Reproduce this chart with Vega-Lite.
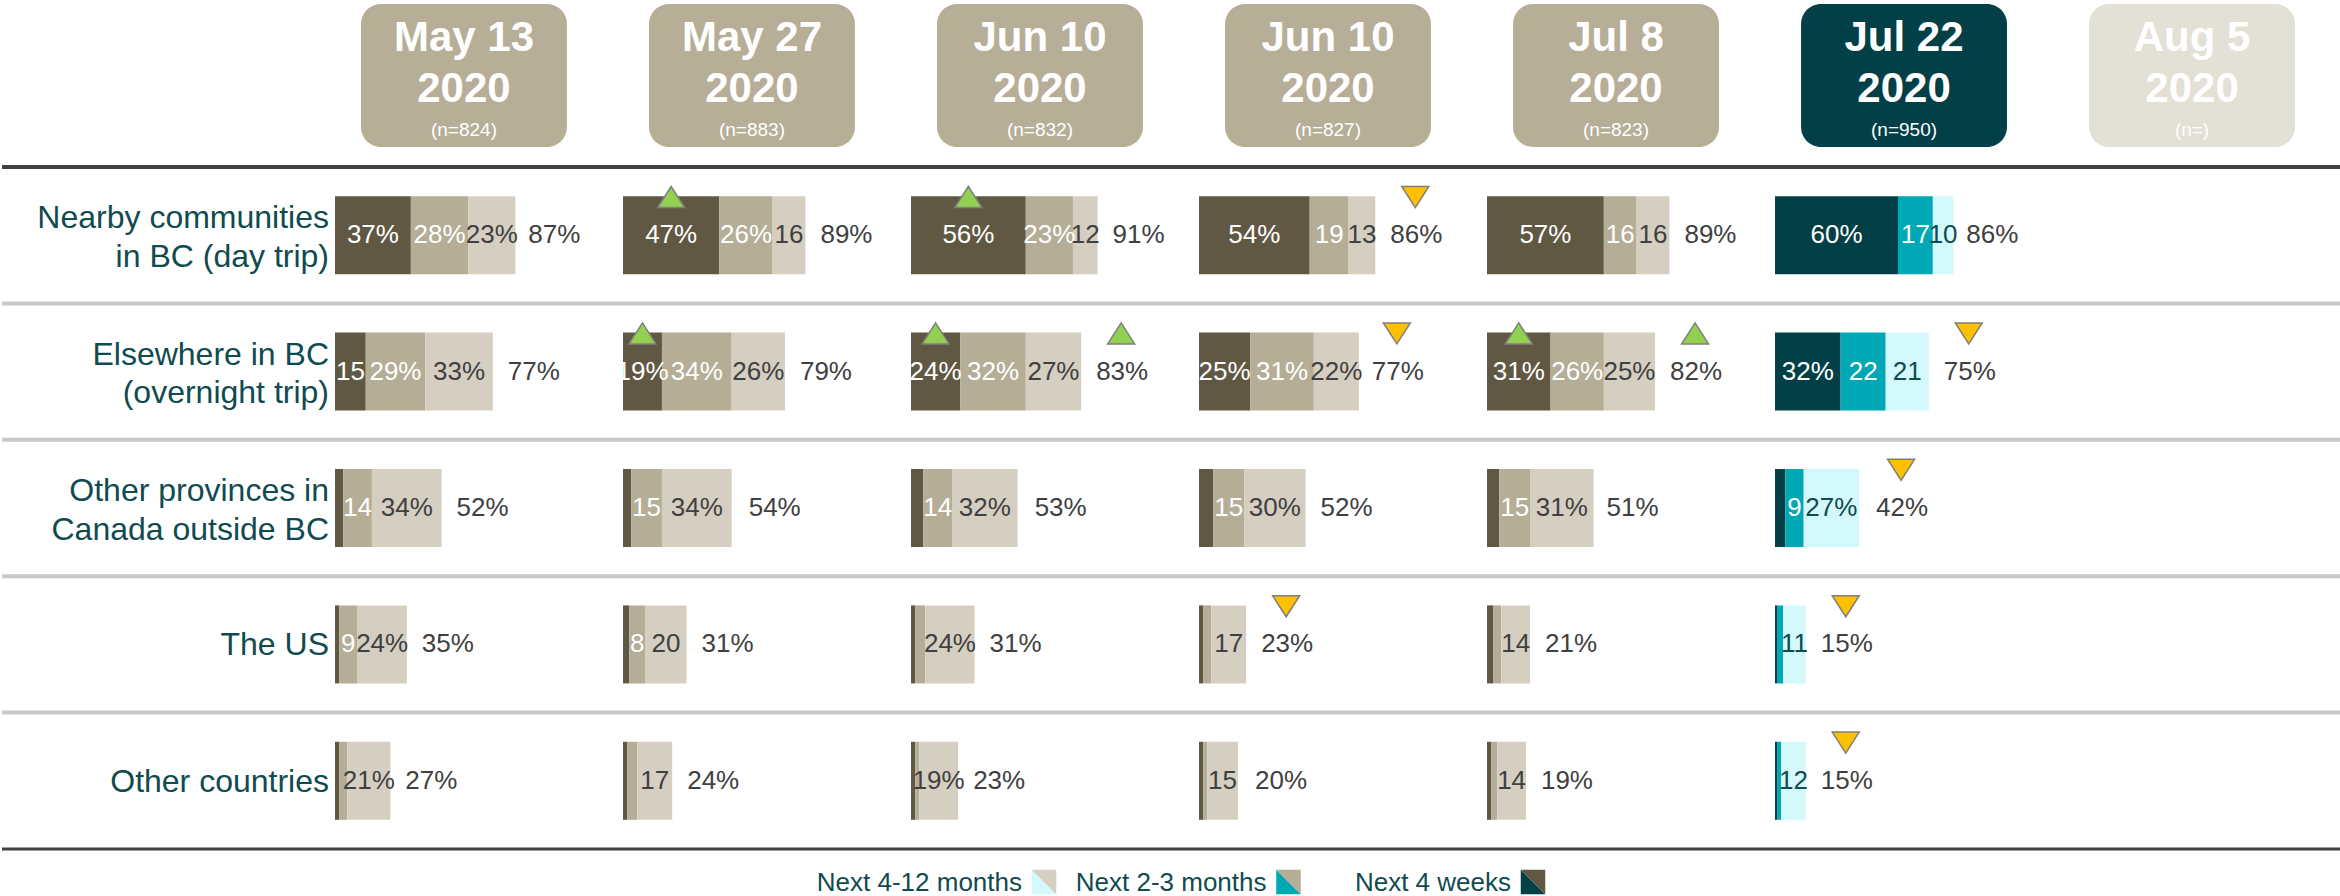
{
  "$schema": "https://vega.github.io/schema/vega-lite/v6.json",
  "padding": {"top": 4, "left": 0, "right": 0, "bottom": 0},
  "autosize": {"type": "pad"},
  "background": "white",
  "config": {"view": {"stroke": null}, "font": "Liberation Sans"},
  "spacing": 18,
  "datasets": {
    "waves": [
      {"wave": "W1", "date": "May 13", "year": "2020", "n": "(n=824)"},
      {"wave": "W2", "date": "May 27", "year": "2020", "n": "(n=883)"},
      {"wave": "W3", "date": "Jun 10", "year": "2020", "n": "(n=832)"},
      {"wave": "W4", "date": "Jun 10", "year": "2020", "n": "(n=827)"},
      {"wave": "W5", "date": "Jul 8", "year": "2020", "n": "(n=823)"},
      {"wave": "W6", "date": "Jul 22", "year": "2020", "n": "(n=950)"},
      {"wave": "W7", "date": "Aug 5", "year": "2020", "n": "(n=)"}
    ],
    "dests": [
      {"dest": "Nearby communities|in BC (day trip)"},
      {"dest": "Elsewhere in BC|(overnight trip)"},
      {"dest": "Other provinces in|Canada outside BC"},
      {"dest": "The US"},
      {"dest": "Other countries"}
    ],
    "legend": [
      {"seg": 3, "name": "Next 4-12 months"},
      {"seg": 2, "name": "Next 2-3 months"},
      {"seg": 1, "name": "Next 4 weeks"}
    ],
    "segs": [
      {"wave": "W1", "dest": "Nearby communities|in BC (day trip)", "seg": 1, "value": 37, "label": "37%"},
      {"wave": "W1", "dest": "Nearby communities|in BC (day trip)", "seg": 2, "value": 28, "label": "28%"},
      {"wave": "W1", "dest": "Nearby communities|in BC (day trip)", "seg": 3, "value": 23, "label": "23%"},
      {"wave": "W1", "dest": "Nearby communities|in BC (day trip)", "seg": 0, "value": 87, "label": "87%"},
      {"wave": "W1", "dest": "Elsewhere in BC|(overnight trip)", "seg": 1, "value": 15, "label": "15"},
      {"wave": "W1", "dest": "Elsewhere in BC|(overnight trip)", "seg": 2, "value": 29, "label": "29%"},
      {"wave": "W1", "dest": "Elsewhere in BC|(overnight trip)", "seg": 3, "value": 33, "label": "33%"},
      {"wave": "W1", "dest": "Elsewhere in BC|(overnight trip)", "seg": 0, "value": 77, "label": "77%"},
      {"wave": "W1", "dest": "Other provinces in|Canada outside BC", "seg": 1, "value": 4, "label": ""},
      {"wave": "W1", "dest": "Other provinces in|Canada outside BC", "seg": 2, "value": 14, "label": "14"},
      {"wave": "W1", "dest": "Other provinces in|Canada outside BC", "seg": 3, "value": 34, "label": "34%"},
      {"wave": "W1", "dest": "Other provinces in|Canada outside BC", "seg": 0, "value": 52, "label": "52%"},
      {"wave": "W1", "dest": "The US", "seg": 1, "value": 2, "label": ""},
      {"wave": "W1", "dest": "The US", "seg": 2, "value": 9, "label": "9"},
      {"wave": "W1", "dest": "The US", "seg": 3, "value": 24, "label": "24%"},
      {"wave": "W1", "dest": "The US", "seg": 0, "value": 35, "label": "35%"},
      {"wave": "W1", "dest": "Other countries", "seg": 1, "value": 2, "label": ""},
      {"wave": "W1", "dest": "Other countries", "seg": 2, "value": 4, "label": ""},
      {"wave": "W1", "dest": "Other countries", "seg": 3, "value": 21, "label": "21%"},
      {"wave": "W1", "dest": "Other countries", "seg": 0, "value": 27, "label": "27%"},

      {"wave": "W2", "dest": "Nearby communities|in BC (day trip)", "seg": 1, "value": 47, "label": "47%", "arrow": "up"},
      {"wave": "W2", "dest": "Nearby communities|in BC (day trip)", "seg": 2, "value": 26, "label": "26%"},
      {"wave": "W2", "dest": "Nearby communities|in BC (day trip)", "seg": 3, "value": 16, "label": "16"},
      {"wave": "W2", "dest": "Nearby communities|in BC (day trip)", "seg": 0, "value": 89, "label": "89%"},
      {"wave": "W2", "dest": "Elsewhere in BC|(overnight trip)", "seg": 1, "value": 19, "label": "19%", "arrow": "up"},
      {"wave": "W2", "dest": "Elsewhere in BC|(overnight trip)", "seg": 2, "value": 34, "label": "34%"},
      {"wave": "W2", "dest": "Elsewhere in BC|(overnight trip)", "seg": 3, "value": 26, "label": "26%"},
      {"wave": "W2", "dest": "Elsewhere in BC|(overnight trip)", "seg": 0, "value": 79, "label": "79%"},
      {"wave": "W2", "dest": "Other provinces in|Canada outside BC", "seg": 1, "value": 4, "label": ""},
      {"wave": "W2", "dest": "Other provinces in|Canada outside BC", "seg": 2, "value": 15, "label": "15"},
      {"wave": "W2", "dest": "Other provinces in|Canada outside BC", "seg": 3, "value": 34, "label": "34%"},
      {"wave": "W2", "dest": "Other provinces in|Canada outside BC", "seg": 0, "value": 54, "label": "54%"},
      {"wave": "W2", "dest": "The US", "seg": 1, "value": 3, "label": ""},
      {"wave": "W2", "dest": "The US", "seg": 2, "value": 8, "label": "8"},
      {"wave": "W2", "dest": "The US", "seg": 3, "value": 20, "label": "20"},
      {"wave": "W2", "dest": "The US", "seg": 0, "value": 31, "label": "31%"},
      {"wave": "W2", "dest": "Other countries", "seg": 1, "value": 2, "label": ""},
      {"wave": "W2", "dest": "Other countries", "seg": 2, "value": 5, "label": ""},
      {"wave": "W2", "dest": "Other countries", "seg": 3, "value": 17, "label": "17"},
      {"wave": "W2", "dest": "Other countries", "seg": 0, "value": 24, "label": "24%"},

      {"wave": "W3", "dest": "Nearby communities|in BC (day trip)", "seg": 1, "value": 56, "label": "56%", "arrow": "up"},
      {"wave": "W3", "dest": "Nearby communities|in BC (day trip)", "seg": 2, "value": 23, "label": "23%"},
      {"wave": "W3", "dest": "Nearby communities|in BC (day trip)", "seg": 3, "value": 12, "label": "12"},
      {"wave": "W3", "dest": "Nearby communities|in BC (day trip)", "seg": 0, "value": 91, "label": "91%"},
      {"wave": "W3", "dest": "Elsewhere in BC|(overnight trip)", "seg": 1, "value": 24, "label": "24%", "arrow": "up"},
      {"wave": "W3", "dest": "Elsewhere in BC|(overnight trip)", "seg": 2, "value": 32, "label": "32%"},
      {"wave": "W3", "dest": "Elsewhere in BC|(overnight trip)", "seg": 3, "value": 27, "label": "27%"},
      {"wave": "W3", "dest": "Elsewhere in BC|(overnight trip)", "seg": 0, "value": 83, "label": "83%", "arrow": "up"},
      {"wave": "W3", "dest": "Other provinces in|Canada outside BC", "seg": 1, "value": 6, "label": ""},
      {"wave": "W3", "dest": "Other provinces in|Canada outside BC", "seg": 2, "value": 14, "label": "14"},
      {"wave": "W3", "dest": "Other provinces in|Canada outside BC", "seg": 3, "value": 32, "label": "32%"},
      {"wave": "W3", "dest": "Other provinces in|Canada outside BC", "seg": 0, "value": 53, "label": "53%"},
      {"wave": "W3", "dest": "The US", "seg": 1, "value": 2, "label": ""},
      {"wave": "W3", "dest": "The US", "seg": 2, "value": 5, "label": ""},
      {"wave": "W3", "dest": "The US", "seg": 3, "value": 24, "label": "24%"},
      {"wave": "W3", "dest": "The US", "seg": 0, "value": 31, "label": "31%"},
      {"wave": "W3", "dest": "Other countries", "seg": 1, "value": 2, "label": ""},
      {"wave": "W3", "dest": "Other countries", "seg": 2, "value": 2, "label": ""},
      {"wave": "W3", "dest": "Other countries", "seg": 3, "value": 19, "label": "19%"},
      {"wave": "W3", "dest": "Other countries", "seg": 0, "value": 23, "label": "23%"},

      {"wave": "W4", "dest": "Nearby communities|in BC (day trip)", "seg": 1, "value": 54, "label": "54%"},
      {"wave": "W4", "dest": "Nearby communities|in BC (day trip)", "seg": 2, "value": 19, "label": "19"},
      {"wave": "W4", "dest": "Nearby communities|in BC (day trip)", "seg": 3, "value": 13, "label": "13"},
      {"wave": "W4", "dest": "Nearby communities|in BC (day trip)", "seg": 0, "value": 86, "label": "86%", "arrow": "down"},
      {"wave": "W4", "dest": "Elsewhere in BC|(overnight trip)", "seg": 1, "value": 25, "label": "25%"},
      {"wave": "W4", "dest": "Elsewhere in BC|(overnight trip)", "seg": 2, "value": 31, "label": "31%"},
      {"wave": "W4", "dest": "Elsewhere in BC|(overnight trip)", "seg": 3, "value": 22, "label": "22%"},
      {"wave": "W4", "dest": "Elsewhere in BC|(overnight trip)", "seg": 0, "value": 77, "label": "77%", "arrow": "down"},
      {"wave": "W4", "dest": "Other provinces in|Canada outside BC", "seg": 1, "value": 7, "label": ""},
      {"wave": "W4", "dest": "Other provinces in|Canada outside BC", "seg": 2, "value": 15, "label": "15"},
      {"wave": "W4", "dest": "Other provinces in|Canada outside BC", "seg": 3, "value": 30, "label": "30%"},
      {"wave": "W4", "dest": "Other provinces in|Canada outside BC", "seg": 0, "value": 52, "label": "52%"},
      {"wave": "W4", "dest": "The US", "seg": 1, "value": 2, "label": ""},
      {"wave": "W4", "dest": "The US", "seg": 2, "value": 4, "label": ""},
      {"wave": "W4", "dest": "The US", "seg": 3, "value": 17, "label": "17"},
      {"wave": "W4", "dest": "The US", "seg": 0, "value": 23, "label": "23%", "arrow": "down"},
      {"wave": "W4", "dest": "Other countries", "seg": 1, "value": 2, "label": ""},
      {"wave": "W4", "dest": "Other countries", "seg": 2, "value": 2, "label": ""},
      {"wave": "W4", "dest": "Other countries", "seg": 3, "value": 15, "label": "15"},
      {"wave": "W4", "dest": "Other countries", "seg": 0, "value": 20, "label": "20%"},

      {"wave": "W5", "dest": "Nearby communities|in BC (day trip)", "seg": 1, "value": 57, "label": "57%"},
      {"wave": "W5", "dest": "Nearby communities|in BC (day trip)", "seg": 2, "value": 16, "label": "16"},
      {"wave": "W5", "dest": "Nearby communities|in BC (day trip)", "seg": 3, "value": 16, "label": "16"},
      {"wave": "W5", "dest": "Nearby communities|in BC (day trip)", "seg": 0, "value": 89, "label": "89%"},
      {"wave": "W5", "dest": "Elsewhere in BC|(overnight trip)", "seg": 1, "value": 31, "label": "31%", "arrow": "up"},
      {"wave": "W5", "dest": "Elsewhere in BC|(overnight trip)", "seg": 2, "value": 26, "label": "26%"},
      {"wave": "W5", "dest": "Elsewhere in BC|(overnight trip)", "seg": 3, "value": 25, "label": "25%"},
      {"wave": "W5", "dest": "Elsewhere in BC|(overnight trip)", "seg": 0, "value": 82, "label": "82%", "arrow": "up"},
      {"wave": "W5", "dest": "Other provinces in|Canada outside BC", "seg": 1, "value": 6, "label": ""},
      {"wave": "W5", "dest": "Other provinces in|Canada outside BC", "seg": 2, "value": 15, "label": "15"},
      {"wave": "W5", "dest": "Other provinces in|Canada outside BC", "seg": 3, "value": 31, "label": "31%"},
      {"wave": "W5", "dest": "Other provinces in|Canada outside BC", "seg": 0, "value": 51, "label": "51%"},
      {"wave": "W5", "dest": "The US", "seg": 1, "value": 3, "label": ""},
      {"wave": "W5", "dest": "The US", "seg": 2, "value": 4, "label": ""},
      {"wave": "W5", "dest": "The US", "seg": 3, "value": 14, "label": "14"},
      {"wave": "W5", "dest": "The US", "seg": 0, "value": 21, "label": "21%"},
      {"wave": "W5", "dest": "Other countries", "seg": 1, "value": 2, "label": ""},
      {"wave": "W5", "dest": "Other countries", "seg": 2, "value": 3, "label": ""},
      {"wave": "W5", "dest": "Other countries", "seg": 3, "value": 14, "label": "14"},
      {"wave": "W5", "dest": "Other countries", "seg": 0, "value": 19, "label": "19%"},

      {"wave": "W6", "dest": "Nearby communities|in BC (day trip)", "seg": 1, "value": 60, "label": "60%"},
      {"wave": "W6", "dest": "Nearby communities|in BC (day trip)", "seg": 2, "value": 17, "label": "17"},
      {"wave": "W6", "dest": "Nearby communities|in BC (day trip)", "seg": 3, "value": 10, "label": "10"},
      {"wave": "W6", "dest": "Nearby communities|in BC (day trip)", "seg": 0, "value": 86, "label": "86%"},
      {"wave": "W6", "dest": "Elsewhere in BC|(overnight trip)", "seg": 1, "value": 32, "label": "32%"},
      {"wave": "W6", "dest": "Elsewhere in BC|(overnight trip)", "seg": 2, "value": 22, "label": "22"},
      {"wave": "W6", "dest": "Elsewhere in BC|(overnight trip)", "seg": 3, "value": 21, "label": "21"},
      {"wave": "W6", "dest": "Elsewhere in BC|(overnight trip)", "seg": 0, "value": 75, "label": "75%", "arrow": "down"},
      {"wave": "W6", "dest": "Other provinces in|Canada outside BC", "seg": 1, "value": 5, "label": ""},
      {"wave": "W6", "dest": "Other provinces in|Canada outside BC", "seg": 2, "value": 9, "label": "9"},
      {"wave": "W6", "dest": "Other provinces in|Canada outside BC", "seg": 3, "value": 27, "label": "27%"},
      {"wave": "W6", "dest": "Other provinces in|Canada outside BC", "seg": 0, "value": 42, "label": "42%", "arrow": "down"},
      {"wave": "W6", "dest": "The US", "seg": 1, "value": 1, "label": ""},
      {"wave": "W6", "dest": "The US", "seg": 2, "value": 3, "label": ""},
      {"wave": "W6", "dest": "The US", "seg": 3, "value": 11, "label": "11"},
      {"wave": "W6", "dest": "The US", "seg": 0, "value": 15, "label": "15%", "arrow": "down"},
      {"wave": "W6", "dest": "Other countries", "seg": 1, "value": 1, "label": ""},
      {"wave": "W6", "dest": "Other countries", "seg": 2, "value": 2, "label": ""},
      {"wave": "W6", "dest": "Other countries", "seg": 3, "value": 12, "label": "12"},
      {"wave": "W6", "dest": "Other countries", "seg": 0, "value": 15, "label": "15%", "arrow": "down"}
    ]
  },
  "vconcat": [
    {
      "width": 2340,
      "height": 143,
      "data": {"name": "waves"},
      "encoding": {
        "x": {"field": "wave", "type": "nominal", "axis": null,
              "scale": {"type": "band", "domain": ["W1","W2","W3","W4","W5","W6","W7"], "range": [359, 2293], "paddingInner": 0.285, "paddingOuter": 0}}
      },
      "layer": [
        {"mark": {"type": "rect", "cornerRadius": 20},
         "encoding": {"fill": {"condition": [{"test": "datum.wave === 'W6'", "value": "#023f47"}, {"test": "datum.wave === 'W7'", "value": "#e3e0d6"}], "value": "#b6ae97"}}},
        {"mark": {"type": "text", "font": "Liberation Sans", "fontSize": 42, "fontWeight": "bold", "color": "white", "baseline": "middle", "dy": -38},
         "encoding": {"text": {"field": "date"}}},
        {"mark": {"type": "text", "font": "Liberation Sans", "fontSize": 42, "fontWeight": "bold", "color": "white", "baseline": "middle", "dy": 13},
         "encoding": {"text": {"field": "year"}}},
        {"mark": {"type": "text", "font": "Liberation Sans", "fontSize": 19, "color": "white", "baseline": "middle", "dy": 54},
         "encoding": {"text": {"field": "n"}}}
      ]
    },
    {
      "spacing": 0,
      "bounds": "flush",
      "hconcat": [
        {
          "width": 333, "height": 682,
          "data": {"name": "dests"},
          "encoding": {"y": {"field": "dest", "type": "nominal", "axis": null, "scale": {"type": "band", "domain": ["Nearby communities|in BC (day trip)", "Elsewhere in BC|(overnight trip)", "Other provinces in|Canada outside BC", "The US", "Other countries"], "paddingInner": 0, "paddingOuter": 0}}},
          "layer": [
            {"mark": {"type": "rule", "color": "#c8c8c8", "strokeWidth": 4}, "encoding": {"y": {"field": "dest", "type": "nominal", "bandPosition": 0, "axis": null}}},
            {"transform": [{"filter": "datum.dest === 'Nearby communities|in BC (day trip)'"}], "mark": {"type": "rule", "color": "#404040", "strokeWidth": 4}, "encoding": {"y": {"field": "dest", "type": "nominal", "bandPosition": 0, "axis": null}}},
            {"transform": [{"filter": "datum.dest === 'Other countries'"}], "mark": {"type": "rule", "color": "#404040", "strokeWidth": 3}, "encoding": {"y": {"field": "dest", "type": "nominal", "bandPosition": 1, "axis": null}}},
            {"transform": [{"filter": "indexof(datum.dest, '|') >= 0"}],
             "mark": {"type": "text", "font": "Liberation Sans", "fontSize": 32, "color": "#0f4b4f", "align": "right", "baseline": "middle", "lineBreak": "|", "lineHeight": 38.5, "dx": 160.5, "dy": -17},
             "encoding": {"text": {"field": "dest"}}},
            {"transform": [{"filter": "indexof(datum.dest, '|') < 0"}],
             "mark": {"type": "text", "font": "Liberation Sans", "fontSize": 32, "color": "#0f4b4f", "align": "right", "baseline": "middle", "dx": 160.5, "dy": 1},
             "encoding": {"text": {"field": "dest"}}}
          ]
        },
        {"width": 288, "height": 682, "data": {"name": "segs"}, "transform": [{"filter": "datum.wave === 'W1'"}],
         "layer": [
          {"transform": [{"filter": "datum.seg === 3"}], "mark": {"type": "rule", "color": "#c8c8c8", "strokeWidth": 4}, "encoding": {"y": {"field": "dest", "type": "nominal", "bandPosition": 0, "axis": null, "scale": {"type": "band", "domain": ["Nearby communities|in BC (day trip)", "Elsewhere in BC|(overnight trip)", "Other provinces in|Canada outside BC", "The US", "Other countries"], "paddingInner": 0, "paddingOuter": 0}}}},
          {"transform": [{"filter": "datum.seg === 3 && datum.dest === 'Nearby communities|in BC (day trip)'"}], "mark": {"type": "rule", "color": "#404040", "strokeWidth": 4}, "encoding": {"y": {"field": "dest", "type": "nominal", "bandPosition": 0, "axis": null}}},
          {"transform": [{"filter": "datum.seg === 3 && datum.dest === 'Other countries'"}], "mark": {"type": "rule", "color": "#404040", "strokeWidth": 3}, "encoding": {"y": {"field": "dest", "type": "nominal", "bandPosition": 1, "axis": null}}},
          {"transform": [{"filter": "datum.seg >= 1"}], "mark": {"type": "bar", "height": {"band": 0.572}},
           "encoding": {"y": {"field": "dest", "type": "nominal", "axis": null}, "x": {"field": "value", "type": "quantitative", "stack": "zero", "axis": null, "scale": {"domain": [0, 140.5], "nice": false}}, "order": {"field": "seg", "type": "quantitative"},
             "color": {"condition": [{"test": "datum.wave === 'W6' && datum.seg === 1", "value": "#023f47"}, {"test": "datum.wave === 'W6' && datum.seg === 2", "value": "#00a7b5"}, {"test": "datum.wave === 'W6' && datum.seg === 3", "value": "#d4f9fd"}], "field": "seg", "type": "nominal", "legend": null, "scale": {"domain": [1, 2, 3], "range": ["#605843", "#b5ad96", "#d5cfc1"]}}}},
          {"transform": [{"filter": "datum.seg >= 1"}], "mark": {"type": "text", "font": "Liberation Sans", "fontSize": 26, "baseline": "middle", "align": "center"},
           "encoding": {"y": {"field": "dest", "type": "nominal", "axis": null}, "x": {"field": "value", "type": "quantitative", "stack": "zero", "bandPosition": 0.5, "axis": null}, "detail": {"field": "seg", "type": "nominal"}, "order": {"field": "seg", "type": "quantitative"}, "text": {"field": "label"},
             "color": {"condition": [{"test": "datum.seg < 3", "value": "#ffffff"}, {"test": "datum.wave === 'W6'", "value": "#0f4b4f"}], "value": "#404040"}}},
          {"transform": [{"filter": "datum.seg === 0"}], "mark": {"type": "text", "font": "Liberation Sans", "fontSize": 26, "baseline": "middle", "align": "left", "dx": 15, "color": "#404040"},
           "encoding": {"y": {"field": "dest", "type": "nominal", "axis": null}, "x": {"field": "value", "type": "quantitative", "axis": null}, "text": {"field": "label"}}},
          {"transform": [{"filter": "datum.seg === 1 && datum.arrow"}], "mark": {"type": "point", "filled": true, "opacity": 1, "size": 729, "stroke": "#7f7f7f", "strokeWidth": 1.5},
           "encoding": {"y": {"field": "dest", "type": "nominal", "bandPosition": 0.22, "axis": null}, "x": {"field": "value", "type": "quantitative", "stack": "zero", "bandPosition": 0.5, "axis": null},
             "shape": {"condition": {"test": "datum.arrow === 'up'", "value": "M-1,0.78L1,0.78L0,-0.78Z"}, "value": "M-1,-0.78L1,-0.78L0,0.78Z"}, "fill": {"condition": {"test": "datum.arrow === 'up'", "value": "#92d050"}, "value": "#ffc000"}}},
          {"transform": [{"filter": "datum.seg === 0 && datum.arrow"}], "mark": {"type": "point", "filled": true, "opacity": 1, "size": 729, "stroke": "#7f7f7f", "strokeWidth": 1.5, "xOffset": 40},
           "encoding": {"y": {"field": "dest", "type": "nominal", "bandPosition": 0.22, "axis": null}, "x": {"field": "value", "type": "quantitative", "axis": null},
             "shape": {"condition": {"test": "datum.arrow === 'up'", "value": "M-1,0.78L1,0.78L0,-0.78Z"}, "value": "M-1,-0.78L1,-0.78L0,0.78Z"}, "fill": {"condition": {"test": "datum.arrow === 'up'", "value": "#92d050"}, "value": "#ffc000"}}}
         ]},
        {"width": 288, "height": 682, "data": {"name": "segs"}, "transform": [{"filter": "datum.wave === 'W2'"}],
         "layer": [
          {"transform": [{"filter": "datum.seg === 3"}], "mark": {"type": "rule", "color": "#c8c8c8", "strokeWidth": 4}, "encoding": {"y": {"field": "dest", "type": "nominal", "bandPosition": 0, "axis": null, "scale": {"type": "band", "domain": ["Nearby communities|in BC (day trip)", "Elsewhere in BC|(overnight trip)", "Other provinces in|Canada outside BC", "The US", "Other countries"], "paddingInner": 0, "paddingOuter": 0}}}},
          {"transform": [{"filter": "datum.seg === 3 && datum.dest === 'Nearby communities|in BC (day trip)'"}], "mark": {"type": "rule", "color": "#404040", "strokeWidth": 4}, "encoding": {"y": {"field": "dest", "type": "nominal", "bandPosition": 0, "axis": null}}},
          {"transform": [{"filter": "datum.seg === 3 && datum.dest === 'Other countries'"}], "mark": {"type": "rule", "color": "#404040", "strokeWidth": 3}, "encoding": {"y": {"field": "dest", "type": "nominal", "bandPosition": 1, "axis": null}}},
          {"transform": [{"filter": "datum.seg >= 1"}], "mark": {"type": "bar", "height": {"band": 0.572}},
           "encoding": {"y": {"field": "dest", "type": "nominal", "axis": null}, "x": {"field": "value", "type": "quantitative", "stack": "zero", "axis": null, "scale": {"domain": [0, 140.5], "nice": false}}, "order": {"field": "seg", "type": "quantitative"},
             "color": {"condition": [{"test": "datum.wave === 'W6' && datum.seg === 1", "value": "#023f47"}, {"test": "datum.wave === 'W6' && datum.seg === 2", "value": "#00a7b5"}, {"test": "datum.wave === 'W6' && datum.seg === 3", "value": "#d4f9fd"}], "field": "seg", "type": "nominal", "legend": null, "scale": {"domain": [1, 2, 3], "range": ["#605843", "#b5ad96", "#d5cfc1"]}}}},
          {"transform": [{"filter": "datum.seg >= 1"}], "mark": {"type": "text", "font": "Liberation Sans", "fontSize": 26, "baseline": "middle", "align": "center"},
           "encoding": {"y": {"field": "dest", "type": "nominal", "axis": null}, "x": {"field": "value", "type": "quantitative", "stack": "zero", "bandPosition": 0.5, "axis": null}, "detail": {"field": "seg", "type": "nominal"}, "order": {"field": "seg", "type": "quantitative"}, "text": {"field": "label"},
             "color": {"condition": [{"test": "datum.seg < 3", "value": "#ffffff"}, {"test": "datum.wave === 'W6'", "value": "#0f4b4f"}], "value": "#404040"}}},
          {"transform": [{"filter": "datum.seg === 0"}], "mark": {"type": "text", "font": "Liberation Sans", "fontSize": 26, "baseline": "middle", "align": "left", "dx": 15, "color": "#404040"},
           "encoding": {"y": {"field": "dest", "type": "nominal", "axis": null}, "x": {"field": "value", "type": "quantitative", "axis": null}, "text": {"field": "label"}}},
          {"transform": [{"filter": "datum.seg === 1 && datum.arrow"}], "mark": {"type": "point", "filled": true, "opacity": 1, "size": 729, "stroke": "#7f7f7f", "strokeWidth": 1.5},
           "encoding": {"y": {"field": "dest", "type": "nominal", "bandPosition": 0.22, "axis": null}, "x": {"field": "value", "type": "quantitative", "stack": "zero", "bandPosition": 0.5, "axis": null},
             "shape": {"condition": {"test": "datum.arrow === 'up'", "value": "M-1,0.78L1,0.78L0,-0.78Z"}, "value": "M-1,-0.78L1,-0.78L0,0.78Z"}, "fill": {"condition": {"test": "datum.arrow === 'up'", "value": "#92d050"}, "value": "#ffc000"}}},
          {"transform": [{"filter": "datum.seg === 0 && datum.arrow"}], "mark": {"type": "point", "filled": true, "opacity": 1, "size": 729, "stroke": "#7f7f7f", "strokeWidth": 1.5, "xOffset": 40},
           "encoding": {"y": {"field": "dest", "type": "nominal", "bandPosition": 0.22, "axis": null}, "x": {"field": "value", "type": "quantitative", "axis": null},
             "shape": {"condition": {"test": "datum.arrow === 'up'", "value": "M-1,0.78L1,0.78L0,-0.78Z"}, "value": "M-1,-0.78L1,-0.78L0,0.78Z"}, "fill": {"condition": {"test": "datum.arrow === 'up'", "value": "#92d050"}, "value": "#ffc000"}}}
         ]},
        {"width": 288, "height": 682, "data": {"name": "segs"}, "transform": [{"filter": "datum.wave === 'W3'"}],
         "layer": [
          {"transform": [{"filter": "datum.seg === 3"}], "mark": {"type": "rule", "color": "#c8c8c8", "strokeWidth": 4}, "encoding": {"y": {"field": "dest", "type": "nominal", "bandPosition": 0, "axis": null, "scale": {"type": "band", "domain": ["Nearby communities|in BC (day trip)", "Elsewhere in BC|(overnight trip)", "Other provinces in|Canada outside BC", "The US", "Other countries"], "paddingInner": 0, "paddingOuter": 0}}}},
          {"transform": [{"filter": "datum.seg === 3 && datum.dest === 'Nearby communities|in BC (day trip)'"}], "mark": {"type": "rule", "color": "#404040", "strokeWidth": 4}, "encoding": {"y": {"field": "dest", "type": "nominal", "bandPosition": 0, "axis": null}}},
          {"transform": [{"filter": "datum.seg === 3 && datum.dest === 'Other countries'"}], "mark": {"type": "rule", "color": "#404040", "strokeWidth": 3}, "encoding": {"y": {"field": "dest", "type": "nominal", "bandPosition": 1, "axis": null}}},
          {"transform": [{"filter": "datum.seg >= 1"}], "mark": {"type": "bar", "height": {"band": 0.572}},
           "encoding": {"y": {"field": "dest", "type": "nominal", "axis": null}, "x": {"field": "value", "type": "quantitative", "stack": "zero", "axis": null, "scale": {"domain": [0, 140.5], "nice": false}}, "order": {"field": "seg", "type": "quantitative"},
             "color": {"condition": [{"test": "datum.wave === 'W6' && datum.seg === 1", "value": "#023f47"}, {"test": "datum.wave === 'W6' && datum.seg === 2", "value": "#00a7b5"}, {"test": "datum.wave === 'W6' && datum.seg === 3", "value": "#d4f9fd"}], "field": "seg", "type": "nominal", "legend": null, "scale": {"domain": [1, 2, 3], "range": ["#605843", "#b5ad96", "#d5cfc1"]}}}},
          {"transform": [{"filter": "datum.seg >= 1"}], "mark": {"type": "text", "font": "Liberation Sans", "fontSize": 26, "baseline": "middle", "align": "center"},
           "encoding": {"y": {"field": "dest", "type": "nominal", "axis": null}, "x": {"field": "value", "type": "quantitative", "stack": "zero", "bandPosition": 0.5, "axis": null}, "detail": {"field": "seg", "type": "nominal"}, "order": {"field": "seg", "type": "quantitative"}, "text": {"field": "label"},
             "color": {"condition": [{"test": "datum.seg < 3", "value": "#ffffff"}, {"test": "datum.wave === 'W6'", "value": "#0f4b4f"}], "value": "#404040"}}},
          {"transform": [{"filter": "datum.seg === 0"}], "mark": {"type": "text", "font": "Liberation Sans", "fontSize": 26, "baseline": "middle", "align": "left", "dx": 15, "color": "#404040"},
           "encoding": {"y": {"field": "dest", "type": "nominal", "axis": null}, "x": {"field": "value", "type": "quantitative", "axis": null}, "text": {"field": "label"}}},
          {"transform": [{"filter": "datum.seg === 1 && datum.arrow"}], "mark": {"type": "point", "filled": true, "opacity": 1, "size": 729, "stroke": "#7f7f7f", "strokeWidth": 1.5},
           "encoding": {"y": {"field": "dest", "type": "nominal", "bandPosition": 0.22, "axis": null}, "x": {"field": "value", "type": "quantitative", "stack": "zero", "bandPosition": 0.5, "axis": null},
             "shape": {"condition": {"test": "datum.arrow === 'up'", "value": "M-1,0.78L1,0.78L0,-0.78Z"}, "value": "M-1,-0.78L1,-0.78L0,0.78Z"}, "fill": {"condition": {"test": "datum.arrow === 'up'", "value": "#92d050"}, "value": "#ffc000"}}},
          {"transform": [{"filter": "datum.seg === 0 && datum.arrow"}], "mark": {"type": "point", "filled": true, "opacity": 1, "size": 729, "stroke": "#7f7f7f", "strokeWidth": 1.5, "xOffset": 40},
           "encoding": {"y": {"field": "dest", "type": "nominal", "bandPosition": 0.22, "axis": null}, "x": {"field": "value", "type": "quantitative", "axis": null},
             "shape": {"condition": {"test": "datum.arrow === 'up'", "value": "M-1,0.78L1,0.78L0,-0.78Z"}, "value": "M-1,-0.78L1,-0.78L0,0.78Z"}, "fill": {"condition": {"test": "datum.arrow === 'up'", "value": "#92d050"}, "value": "#ffc000"}}}
         ]},
        {"width": 288, "height": 682, "data": {"name": "segs"}, "transform": [{"filter": "datum.wave === 'W4'"}],
         "layer": [
          {"transform": [{"filter": "datum.seg === 3"}], "mark": {"type": "rule", "color": "#c8c8c8", "strokeWidth": 4}, "encoding": {"y": {"field": "dest", "type": "nominal", "bandPosition": 0, "axis": null, "scale": {"type": "band", "domain": ["Nearby communities|in BC (day trip)", "Elsewhere in BC|(overnight trip)", "Other provinces in|Canada outside BC", "The US", "Other countries"], "paddingInner": 0, "paddingOuter": 0}}}},
          {"transform": [{"filter": "datum.seg === 3 && datum.dest === 'Nearby communities|in BC (day trip)'"}], "mark": {"type": "rule", "color": "#404040", "strokeWidth": 4}, "encoding": {"y": {"field": "dest", "type": "nominal", "bandPosition": 0, "axis": null}}},
          {"transform": [{"filter": "datum.seg === 3 && datum.dest === 'Other countries'"}], "mark": {"type": "rule", "color": "#404040", "strokeWidth": 3}, "encoding": {"y": {"field": "dest", "type": "nominal", "bandPosition": 1, "axis": null}}},
          {"transform": [{"filter": "datum.seg >= 1"}], "mark": {"type": "bar", "height": {"band": 0.572}},
           "encoding": {"y": {"field": "dest", "type": "nominal", "axis": null}, "x": {"field": "value", "type": "quantitative", "stack": "zero", "axis": null, "scale": {"domain": [0, 140.5], "nice": false}}, "order": {"field": "seg", "type": "quantitative"},
             "color": {"condition": [{"test": "datum.wave === 'W6' && datum.seg === 1", "value": "#023f47"}, {"test": "datum.wave === 'W6' && datum.seg === 2", "value": "#00a7b5"}, {"test": "datum.wave === 'W6' && datum.seg === 3", "value": "#d4f9fd"}], "field": "seg", "type": "nominal", "legend": null, "scale": {"domain": [1, 2, 3], "range": ["#605843", "#b5ad96", "#d5cfc1"]}}}},
          {"transform": [{"filter": "datum.seg >= 1"}], "mark": {"type": "text", "font": "Liberation Sans", "fontSize": 26, "baseline": "middle", "align": "center"},
           "encoding": {"y": {"field": "dest", "type": "nominal", "axis": null}, "x": {"field": "value", "type": "quantitative", "stack": "zero", "bandPosition": 0.5, "axis": null}, "detail": {"field": "seg", "type": "nominal"}, "order": {"field": "seg", "type": "quantitative"}, "text": {"field": "label"},
             "color": {"condition": [{"test": "datum.seg < 3", "value": "#ffffff"}, {"test": "datum.wave === 'W6'", "value": "#0f4b4f"}], "value": "#404040"}}},
          {"transform": [{"filter": "datum.seg === 0"}], "mark": {"type": "text", "font": "Liberation Sans", "fontSize": 26, "baseline": "middle", "align": "left", "dx": 15, "color": "#404040"},
           "encoding": {"y": {"field": "dest", "type": "nominal", "axis": null}, "x": {"field": "value", "type": "quantitative", "axis": null}, "text": {"field": "label"}}},
          {"transform": [{"filter": "datum.seg === 1 && datum.arrow"}], "mark": {"type": "point", "filled": true, "opacity": 1, "size": 729, "stroke": "#7f7f7f", "strokeWidth": 1.5},
           "encoding": {"y": {"field": "dest", "type": "nominal", "bandPosition": 0.22, "axis": null}, "x": {"field": "value", "type": "quantitative", "stack": "zero", "bandPosition": 0.5, "axis": null},
             "shape": {"condition": {"test": "datum.arrow === 'up'", "value": "M-1,0.78L1,0.78L0,-0.78Z"}, "value": "M-1,-0.78L1,-0.78L0,0.78Z"}, "fill": {"condition": {"test": "datum.arrow === 'up'", "value": "#92d050"}, "value": "#ffc000"}}},
          {"transform": [{"filter": "datum.seg === 0 && datum.arrow"}], "mark": {"type": "point", "filled": true, "opacity": 1, "size": 729, "stroke": "#7f7f7f", "strokeWidth": 1.5, "xOffset": 40},
           "encoding": {"y": {"field": "dest", "type": "nominal", "bandPosition": 0.22, "axis": null}, "x": {"field": "value", "type": "quantitative", "axis": null},
             "shape": {"condition": {"test": "datum.arrow === 'up'", "value": "M-1,0.78L1,0.78L0,-0.78Z"}, "value": "M-1,-0.78L1,-0.78L0,0.78Z"}, "fill": {"condition": {"test": "datum.arrow === 'up'", "value": "#92d050"}, "value": "#ffc000"}}}
         ]},
        {"width": 288, "height": 682, "data": {"name": "segs"}, "transform": [{"filter": "datum.wave === 'W5'"}],
         "layer": [
          {"transform": [{"filter": "datum.seg === 3"}], "mark": {"type": "rule", "color": "#c8c8c8", "strokeWidth": 4}, "encoding": {"y": {"field": "dest", "type": "nominal", "bandPosition": 0, "axis": null, "scale": {"type": "band", "domain": ["Nearby communities|in BC (day trip)", "Elsewhere in BC|(overnight trip)", "Other provinces in|Canada outside BC", "The US", "Other countries"], "paddingInner": 0, "paddingOuter": 0}}}},
          {"transform": [{"filter": "datum.seg === 3 && datum.dest === 'Nearby communities|in BC (day trip)'"}], "mark": {"type": "rule", "color": "#404040", "strokeWidth": 4}, "encoding": {"y": {"field": "dest", "type": "nominal", "bandPosition": 0, "axis": null}}},
          {"transform": [{"filter": "datum.seg === 3 && datum.dest === 'Other countries'"}], "mark": {"type": "rule", "color": "#404040", "strokeWidth": 3}, "encoding": {"y": {"field": "dest", "type": "nominal", "bandPosition": 1, "axis": null}}},
          {"transform": [{"filter": "datum.seg >= 1"}], "mark": {"type": "bar", "height": {"band": 0.572}},
           "encoding": {"y": {"field": "dest", "type": "nominal", "axis": null}, "x": {"field": "value", "type": "quantitative", "stack": "zero", "axis": null, "scale": {"domain": [0, 140.5], "nice": false}}, "order": {"field": "seg", "type": "quantitative"},
             "color": {"condition": [{"test": "datum.wave === 'W6' && datum.seg === 1", "value": "#023f47"}, {"test": "datum.wave === 'W6' && datum.seg === 2", "value": "#00a7b5"}, {"test": "datum.wave === 'W6' && datum.seg === 3", "value": "#d4f9fd"}], "field": "seg", "type": "nominal", "legend": null, "scale": {"domain": [1, 2, 3], "range": ["#605843", "#b5ad96", "#d5cfc1"]}}}},
          {"transform": [{"filter": "datum.seg >= 1"}], "mark": {"type": "text", "font": "Liberation Sans", "fontSize": 26, "baseline": "middle", "align": "center"},
           "encoding": {"y": {"field": "dest", "type": "nominal", "axis": null}, "x": {"field": "value", "type": "quantitative", "stack": "zero", "bandPosition": 0.5, "axis": null}, "detail": {"field": "seg", "type": "nominal"}, "order": {"field": "seg", "type": "quantitative"}, "text": {"field": "label"},
             "color": {"condition": [{"test": "datum.seg < 3", "value": "#ffffff"}, {"test": "datum.wave === 'W6'", "value": "#0f4b4f"}], "value": "#404040"}}},
          {"transform": [{"filter": "datum.seg === 0"}], "mark": {"type": "text", "font": "Liberation Sans", "fontSize": 26, "baseline": "middle", "align": "left", "dx": 15, "color": "#404040"},
           "encoding": {"y": {"field": "dest", "type": "nominal", "axis": null}, "x": {"field": "value", "type": "quantitative", "axis": null}, "text": {"field": "label"}}},
          {"transform": [{"filter": "datum.seg === 1 && datum.arrow"}], "mark": {"type": "point", "filled": true, "opacity": 1, "size": 729, "stroke": "#7f7f7f", "strokeWidth": 1.5},
           "encoding": {"y": {"field": "dest", "type": "nominal", "bandPosition": 0.22, "axis": null}, "x": {"field": "value", "type": "quantitative", "stack": "zero", "bandPosition": 0.5, "axis": null},
             "shape": {"condition": {"test": "datum.arrow === 'up'", "value": "M-1,0.78L1,0.78L0,-0.78Z"}, "value": "M-1,-0.78L1,-0.78L0,0.78Z"}, "fill": {"condition": {"test": "datum.arrow === 'up'", "value": "#92d050"}, "value": "#ffc000"}}},
          {"transform": [{"filter": "datum.seg === 0 && datum.arrow"}], "mark": {"type": "point", "filled": true, "opacity": 1, "size": 729, "stroke": "#7f7f7f", "strokeWidth": 1.5, "xOffset": 40},
           "encoding": {"y": {"field": "dest", "type": "nominal", "bandPosition": 0.22, "axis": null}, "x": {"field": "value", "type": "quantitative", "axis": null},
             "shape": {"condition": {"test": "datum.arrow === 'up'", "value": "M-1,0.78L1,0.78L0,-0.78Z"}, "value": "M-1,-0.78L1,-0.78L0,0.78Z"}, "fill": {"condition": {"test": "datum.arrow === 'up'", "value": "#92d050"}, "value": "#ffc000"}}}
         ]},
        {"width": 288, "height": 682, "data": {"name": "segs"}, "transform": [{"filter": "datum.wave === 'W6'"}],
         "layer": [
          {"transform": [{"filter": "datum.seg === 3"}], "mark": {"type": "rule", "color": "#c8c8c8", "strokeWidth": 4}, "encoding": {"y": {"field": "dest", "type": "nominal", "bandPosition": 0, "axis": null, "scale": {"type": "band", "domain": ["Nearby communities|in BC (day trip)", "Elsewhere in BC|(overnight trip)", "Other provinces in|Canada outside BC", "The US", "Other countries"], "paddingInner": 0, "paddingOuter": 0}}}},
          {"transform": [{"filter": "datum.seg === 3 && datum.dest === 'Nearby communities|in BC (day trip)'"}], "mark": {"type": "rule", "color": "#404040", "strokeWidth": 4}, "encoding": {"y": {"field": "dest", "type": "nominal", "bandPosition": 0, "axis": null}}},
          {"transform": [{"filter": "datum.seg === 3 && datum.dest === 'Other countries'"}], "mark": {"type": "rule", "color": "#404040", "strokeWidth": 3}, "encoding": {"y": {"field": "dest", "type": "nominal", "bandPosition": 1, "axis": null}}},
          {"transform": [{"filter": "datum.seg >= 1"}], "mark": {"type": "bar", "height": {"band": 0.572}},
           "encoding": {"y": {"field": "dest", "type": "nominal", "axis": null}, "x": {"field": "value", "type": "quantitative", "stack": "zero", "axis": null, "scale": {"domain": [0, 140.5], "nice": false}}, "order": {"field": "seg", "type": "quantitative"},
             "color": {"condition": [{"test": "datum.wave === 'W6' && datum.seg === 1", "value": "#023f47"}, {"test": "datum.wave === 'W6' && datum.seg === 2", "value": "#00a7b5"}, {"test": "datum.wave === 'W6' && datum.seg === 3", "value": "#d4f9fd"}], "field": "seg", "type": "nominal", "legend": null, "scale": {"domain": [1, 2, 3], "range": ["#605843", "#b5ad96", "#d5cfc1"]}}}},
          {"transform": [{"filter": "datum.seg >= 1"}], "mark": {"type": "text", "font": "Liberation Sans", "fontSize": 26, "baseline": "middle", "align": "center"},
           "encoding": {"y": {"field": "dest", "type": "nominal", "axis": null}, "x": {"field": "value", "type": "quantitative", "stack": "zero", "bandPosition": 0.5, "axis": null}, "detail": {"field": "seg", "type": "nominal"}, "order": {"field": "seg", "type": "quantitative"}, "text": {"field": "label"},
             "color": {"condition": [{"test": "datum.seg < 3", "value": "#ffffff"}, {"test": "datum.wave === 'W6'", "value": "#0f4b4f"}], "value": "#404040"}}},
          {"transform": [{"filter": "datum.seg === 0"}], "mark": {"type": "text", "font": "Liberation Sans", "fontSize": 26, "baseline": "middle", "align": "left", "dx": 15, "color": "#404040"},
           "encoding": {"y": {"field": "dest", "type": "nominal", "axis": null}, "x": {"field": "value", "type": "quantitative", "axis": null}, "text": {"field": "label"}}},
          {"transform": [{"filter": "datum.seg === 1 && datum.arrow"}], "mark": {"type": "point", "filled": true, "opacity": 1, "size": 729, "stroke": "#7f7f7f", "strokeWidth": 1.5},
           "encoding": {"y": {"field": "dest", "type": "nominal", "bandPosition": 0.22, "axis": null}, "x": {"field": "value", "type": "quantitative", "stack": "zero", "bandPosition": 0.5, "axis": null},
             "shape": {"condition": {"test": "datum.arrow === 'up'", "value": "M-1,0.78L1,0.78L0,-0.78Z"}, "value": "M-1,-0.78L1,-0.78L0,0.78Z"}, "fill": {"condition": {"test": "datum.arrow === 'up'", "value": "#92d050"}, "value": "#ffc000"}}},
          {"transform": [{"filter": "datum.seg === 0 && datum.arrow"}], "mark": {"type": "point", "filled": true, "opacity": 1, "size": 729, "stroke": "#7f7f7f", "strokeWidth": 1.5, "xOffset": 40},
           "encoding": {"y": {"field": "dest", "type": "nominal", "bandPosition": 0.22, "axis": null}, "x": {"field": "value", "type": "quantitative", "axis": null},
             "shape": {"condition": {"test": "datum.arrow === 'up'", "value": "M-1,0.78L1,0.78L0,-0.78Z"}, "value": "M-1,-0.78L1,-0.78L0,0.78Z"}, "fill": {"condition": {"test": "datum.arrow === 'up'", "value": "#92d050"}, "value": "#ffc000"}}}
         ]},
        {
          "width": 279, "height": 682,
          "data": {"name": "dests"},
          "encoding": {"y": {"field": "dest", "type": "nominal", "axis": null, "scale": {"type": "band", "domain": ["Nearby communities|in BC (day trip)", "Elsewhere in BC|(overnight trip)", "Other provinces in|Canada outside BC", "The US", "Other countries"], "paddingInner": 0, "paddingOuter": 0}}},
          "layer": [
            {"mark": {"type": "rule", "color": "#c8c8c8", "strokeWidth": 4}, "encoding": {"y": {"field": "dest", "type": "nominal", "bandPosition": 0, "axis": null}}},
            {"transform": [{"filter": "datum.dest === 'Nearby communities|in BC (day trip)'"}], "mark": {"type": "rule", "color": "#404040", "strokeWidth": 4}, "encoding": {"y": {"field": "dest", "type": "nominal", "bandPosition": 0, "axis": null}}},
            {"transform": [{"filter": "datum.dest === 'Other countries'"}], "mark": {"type": "rule", "color": "#404040", "strokeWidth": 3}, "encoding": {"y": {"field": "dest", "type": "nominal", "bandPosition": 1, "axis": null}}}
          ]
        }
      ]
    },
    {
      "width": 2340,
      "height": 24,
      "data": {"name": "legend"},
      "encoding": {
        "x": {"field": "name", "type": "nominal", "axis": null,
              "scale": {"type": "point", "domain": ["Next 4-12 months", "Next 2-3 months", "Next 4 weeks"], "range": [1042, 1531], "padding": 0}}
      },
      "layer": [
        {"mark": {"type": "text", "font": "Liberation Sans", "fontSize": 26, "color": "#0f4b4f", "align": "right", "baseline": "middle", "dx": -22, "dy": 1},
         "encoding": {"text": {"field": "name"}}},
        {"mark": {"type": "point", "filled": true, "opacity": 1, "size": 600, "strokeWidth": 0, "shape": "M-1,-1L-1,1L1,1Z"},
         "encoding": {"fill": {"condition": [{"test": "datum.seg === 1", "value": "#023f47"}, {"test": "datum.seg === 2", "value": "#00a7b5"}], "value": "#d4f9fd"}}},
        {"mark": {"type": "point", "filled": true, "opacity": 1, "size": 600, "strokeWidth": 0, "shape": "M-1,-1L1,-1L1,1Z"},
         "encoding": {"fill": {"condition": [{"test": "datum.seg === 1", "value": "#605843"}, {"test": "datum.seg === 2", "value": "#b5ad96"}], "value": "#d5cfc1"}}}
      ]
    }
  ]
}
